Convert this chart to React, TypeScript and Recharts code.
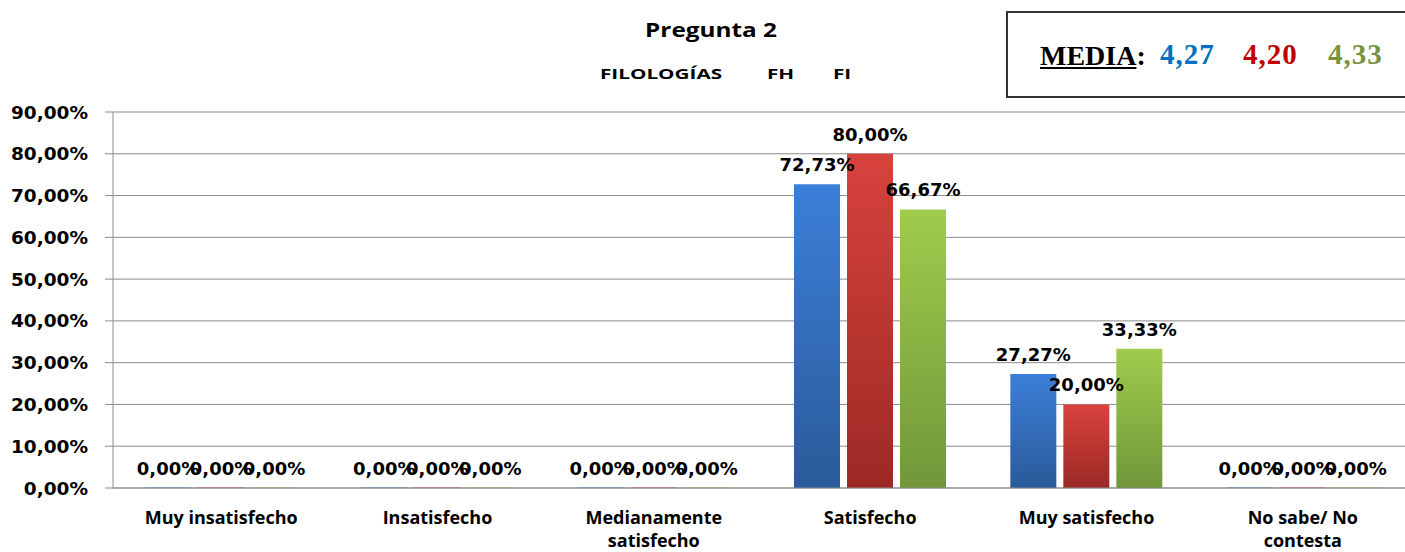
import { Bar, BarChart, CartesianGrid, LabelList, XAxis, YAxis } from "recharts";

const categories = [
  "Muy insatisfecho",
  "Insatisfecho",
  "Medianamente\nsatisfecho",
  "Satisfecho",
  "Muy satisfecho",
  "No sabe/ No\ncontesta",
];

const seriesNames = ["FILOLOGÍAS", "FH", "FI"];
const filologias = [0, 0, 0, 72.73, 27.27, 0];
const fh = [0, 0, 0, 80.0, 20.0, 0];
const fi = [0, 0, 0, 66.67, 33.33, 0];

const yTicks = [0, 10, 20, 30, 40, 50, 60, 70, 80, 90];

const medias = ["4,27", "4,20", "4,33"];
const MEDIA_COLORS = ["#0070C0", "#C00000", "#77933C"];

// top / bottom stops of each bar gradient
const BAR_GRADIENTS = [
  ["#3C7FD9", "#2A5A98"],
  ["#D8423D", "#9C2925"],
  ["#A0CB4C", "#71973A"],
];

const NUM_FONT = "'DejaVu Sans', sans-serif";
const TEXT_FONT = "'Open Sans', sans-serif";

const LEGEND_X = [600, 767, 833];
const MEDIA_X = [1160, 1243, 1328];

const data = categories.map((name, i) => ({
  name,
  s0: filologias[i],
  s1: fh[i],
  s2: fi[i],
}));

const pct = (v: unknown) => `${Number(v).toFixed(2).replace(".", ",")}%`;

function CategoryTick({ x, y, payload }: any) {
  const lines = String(payload.value).split("\n");
  return (
    <text x={x} y={y} textAnchor="middle" fill="#000" fontFamily={TEXT_FONT} fontWeight={700} fontSize={18}>
      {lines.map((line, i) => (
        <tspan key={i} x={x} dy={i === 0 ? 36 : 23}>
          {line}
        </tspan>
      ))}
    </text>
  );
}

export default function App() {
  return (
    <div style={{ position: "relative", width: 1405, height: 552, background: "#fff", overflow: "hidden" }}>
      <style>{`body{margin:0}`}</style>

      <div
        style={{
          position: "absolute",
          top: 17,
          left: 711,
          transform: "translateX(-50%) scaleX(1.28)",
          fontFamily: TEXT_FONT,
          fontWeight: 700,
          fontSize: 19,
          whiteSpace: "nowrap",
        }}
      >
        Pregunta 2
      </div>
      {seriesNames.map((n, i) => (
        <div
          key={n}
          style={{
            position: "absolute",
            top: 63,
            left: LEGEND_X[i],
            transform: "scaleX(1.38)",
            transformOrigin: "left",
            fontFamily: TEXT_FONT,
            fontWeight: 700,
            fontSize: 15,
            whiteSpace: "nowrap",
          }}
        >
          {n}
        </div>
      ))}

      <div
        style={{
          position: "absolute",
          top: 11,
          left: 1006,
          width: 420,
          height: 87,
          border: "2px solid #333",
          boxSizing: "border-box",
          background: "#fff",
        }}
      />
      <div
        style={{
          position: "absolute",
          top: 40,
          left: 1040,
          fontFamily: "'Liberation Serif', serif",
          fontWeight: 700,
          fontSize: 28,
          whiteSpace: "nowrap",
        }}
      >
        <span style={{ textDecoration: "underline" }}>MEDIA</span>:
      </div>
      {medias.map((m, i) => (
        <div
          key={m}
          style={{
            position: "absolute",
            top: 38,
            left: MEDIA_X[i],
            color: MEDIA_COLORS[i],
            fontFamily: "'Liberation Serif', serif",
            fontWeight: 700,
            fontSize: 29,
            letterSpacing: 1,
            whiteSpace: "nowrap",
          }}
        >
          {m}
        </div>
      ))}

      <BarChart
        width={1405}
        height={552}
        data={data}
        margin={{ top: 112, right: -6, left: 0, bottom: 4 }}
        barSize={46}
        barGap={7}
        style={{ position: "absolute", top: 0, left: 0 }}
      >
        <defs>
          {BAR_GRADIENTS.map(([top, bottom], i) => (
            <linearGradient key={i} id={`bar-grad-${i}`} x1="0" y1="0" x2="0" y2="1">
              <stop offset="0%" stopColor={top} />
              <stop offset="100%" stopColor={bottom} />
            </linearGradient>
          ))}
        </defs>
        <CartesianGrid vertical={false} stroke="#8c8c8c" strokeWidth={1} />
        <XAxis
          dataKey="name"
          height={60}
          axisLine={{ stroke: "#8c8c8c" }}
          tickLine={false}
          tickSize={0}
          tickMargin={0}
          interval={0}
          tick={<CategoryTick />}
        />
        <YAxis
          width={113}
          domain={[0, 90]}
          ticks={yTicks}
          interval={0}
          axisLine={{ stroke: "#8c8c8c" }}
          tickLine={{ stroke: "#8c8c8c" }}
          tickSize={8}
          tickMargin={17}
          tickFormatter={pct}
          tick={{ fill: "#000", fontFamily: NUM_FONT, fontWeight: 700, fontSize: 18.5 }}
        />
        {["s0", "s1", "s2"].map((key, i) => (
          <Bar
            key={key}
            dataKey={key}
            name={seriesNames[i]}
            fill={`url(#bar-grad-${i})`}
            minPointSize={0.5}
            isAnimationActive={false}
          >
            <LabelList
              dataKey={key}
              position="top"
              offset={13}
              formatter={pct}
              fill="#000"
              fontFamily={NUM_FONT}
              fontWeight={700}
              fontSize={18}
            />
          </Bar>
        ))}
      </BarChart>
    </div>
  );
}
